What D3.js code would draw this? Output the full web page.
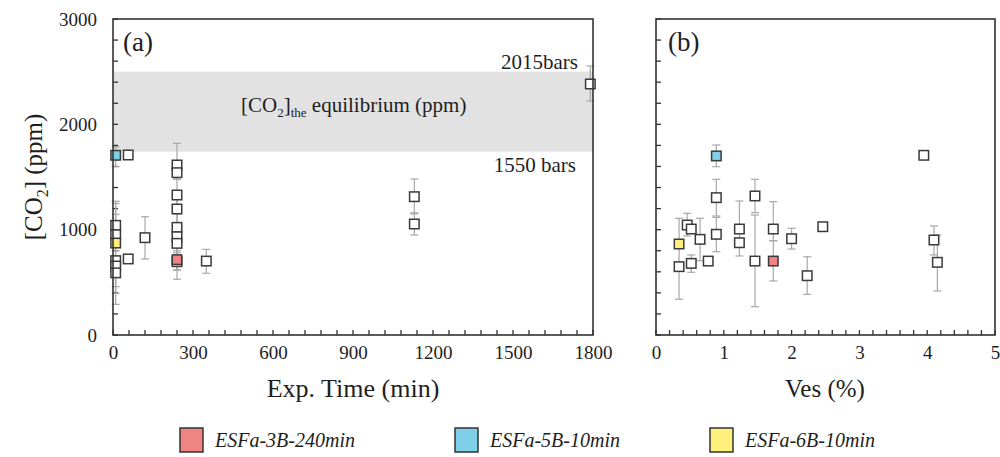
<!DOCTYPE html>
<html><head><meta charset="utf-8">
<script src="https://cdn.jsdelivr.net/npm/d3@7"></script>
</head><body style="margin:0;background:#fff"><svg id="c" width="1000" height="457" font-family="Liberation Serif"></svg>
<script>
// ---- Data ----
// Panel (a): experiment time (min) vs [CO2] (ppm)
const timeA = [10,57,10,10,10,10,10,120,57,240,240,240,240,240,240,240,240,350,1130,1130,1790,240,10,10];
const co2A  = [1041,1709,952,706,655,590,924,924,722,1614,1541,1329,1196,1022,933,870,696,702,1313,1054,2383,715,1706,873];
const loA   = [860,null,800,459,396,291,null,722,null,1478,null,1200,1050,880,780,617,617,586,1149,949,2222,529,1598,null];
const hiA   = [1270,null,1250,1146,null,null,null,1123,null,1820,null,1478,1300,1150,1020,1000,800,813,1481,1161,2554,895,1788,null];
const catA  = ["w","w","w","w","w","w","none","w","w","w","w","w","w","w","w","w","w","w","w","w","w","r","b","y"];
// Panel (b): vesicularity (%) vs [CO2] (ppm)
const vesB = [0.34,0.46,0.52,0.52,0.65,0.77,0.89,0.89,1.23,1.23,1.46,1.46,1.73,2.0,2.23,2.46,3.95,4.10,4.15,1.73,0.89,0.34];
const co2B = [649,1044,1006,680,908,702,1304,956,1006,876,1320,702,1006,914,563,1028,1706,902,690,702,1700,864];
const loB  = [339,940,null,595,705,null,1130,791,750,null,1161,269,895,816,386,null,null,760,418,513,1598,null];
const hiB  = [1108,1155,null,760,1108,null,1478,1117,1272,null,1478,1139,1266,1013,743,null,null,1035,949,895,1804,null];
const catB = ["w","w","w","w","w","w","w","w","w","w","w","w","w","w","w","w","w","w","w","r","b","y"];
// Axis ticks / labels
const yTicks = [0,1000,2000,3000];
const xTicksA = [0,300,600,900,1200,1500,1800];
const xTicksB = [0,1,2,3,4,5];
const band = [1740,2500];
const legendNames = ["ESFa-3B-240min","ESFa-5B-10min","ESFa-6B-10min"];
const legendCats = ["r","b","y"];
const colors = {w:"#ffffff", r:"#f08484", b:"#7ecfe7", y:"#fdf07c"};

const FONT = "Liberation Serif";
const TXT = "#1e1e1e";
const svg = d3.select("#c");
const yTop = 19, yBot = 335;
const y = d3.scaleLinear().domain([0,3000]).range([yBot, yTop]);
const xA = d3.scaleLinear().domain([0,1800]).range([113, 593]);
const xB = d3.scaleLinear().domain([0,5]).range([656, 995]);

function panel(x, xt, minorStep, showY) {
  const g = svg.append("g");
  const [x0,x1] = x.range();
  d3.range(0, 3001, 200).forEach(v => {
    g.append("line").attr("x1", x0).attr("x2", x0+5).attr("y1", y(v)).attr("y2", y(v)).attr("stroke","#333").attr("stroke-width",1.3);
  });
  const xd = x.domain();
  d3.range(xd[0], xd[1]+minorStep/2, minorStep).forEach(v => {
    g.append("line").attr("x1", x(v)).attr("x2", x(v)).attr("y1", yBot).attr("y2", yBot-5).attr("stroke","#333").attr("stroke-width",1.3);
  });
  const ax = d3.axisBottom(x).tickValues(xt).tickFormat(d3.format("d")).tickSize(0).tickPadding(11);
  const ag = g.append("g").attr("transform",`translate(0,${yBot})`).call(ax)
    .attr("font-family",FONT).attr("font-size",19);
  ag.select(".domain").remove();
  ag.selectAll("text").attr("fill",TXT);
  if (showY) {
    const ay = d3.axisLeft(y).tickValues(yTicks).tickFormat(d3.format("d")).tickSize(0).tickPadding(16);
    const yg = g.append("g").attr("transform",`translate(${x0},0)`).call(ay)
      .attr("font-family",FONT).attr("font-size",19);
    yg.select(".domain").remove();
    yg.selectAll("text").attr("fill",TXT);
  }
  return g;
}

svg.append("rect").attr("x", xA(0)).attr("width", xA(1800)-xA(0))
  .attr("y", y(band[1])).attr("height", y(band[0])-y(band[1])).attr("fill","#e2e2e2");

panel(xA, xTicksA, 60, true);
panel(xB, xTicksB, 0.2, false);

function points(x, xs, vs, lo, hi, cat) {
  const g = svg.append("g");
  const idx = d3.range(xs.length);
  idx.forEach(i => {
    if (lo[i]==null && hi[i]==null) return;
    const a = lo[i]!=null ? lo[i] : vs[i], b = hi[i]!=null ? hi[i] : vs[i];
    const cx = x(xs[i]);
    g.append("line").attr("x1",cx).attr("x2",cx).attr("y1",y(a)).attr("y2",y(b)).attr("stroke","#a8a8a8").attr("stroke-width",1.2);
    [lo[i],hi[i]].forEach(v => { if (v!=null) g.append("line").attr("x1",cx-4).attr("x2",cx+4).attr("y1",y(v)).attr("y2",y(v)).attr("stroke","#a8a8a8").attr("stroke-width",1.2); });
  });
  idx.forEach(i => {
    if (cat[i]==="none") return;
    const s = 9.5;
    g.append("rect").attr("x", x(xs[i])-s/2).attr("y", y(vs[i])-s/2).attr("width",s).attr("height",s)
      .attr("fill", colors[cat[i]]).attr("stroke","#3a3a3a").attr("stroke-width",1.5);
  });
}
points(xA, timeA, co2A, loA, hiA, catA);
points(xB, vesB, co2B, loB, hiB, catB);

[xA, xB].forEach(x => {
  const [x0,x1] = x.range();
  svg.append("rect").attr("x",x0).attr("y",yTop).attr("width",x1-x0).attr("height",yBot-yTop)
    .attr("fill","none").attr("stroke","#333").attr("stroke-width",1.6);
});

function txt(x, yy, size, s) {
  return svg.append("text").attr("x",x).attr("y",yy).attr("font-size",size).attr("font-family",FONT).attr("fill",TXT).text(s);
}
txt(123, 51, 27, "(a)");
txt(668, 51, 27, "(b)");
txt(578, 69, 21, "2015bars").attr("text-anchor","end");
txt(576, 172, 21, "1550 bars").attr("text-anchor","end");
const eq = svg.append("text").attr("x",241).attr("y",112).attr("font-size",21).attr("font-family",FONT).attr("fill",TXT);
eq.append("tspan").text("[CO");
eq.append("tspan").attr("font-size",13).attr("dy",5).text("2");
eq.append("tspan").attr("dy",-5).text("]");
eq.append("tspan").attr("font-size",13).attr("dy",5).text("the");
eq.append("tspan").attr("dy",-5).text(" equilibrium  (ppm)");

txt(353, 397, 26, "Exp. Time (min)").attr("text-anchor","middle");
txt(825, 397, 25, "Ves (%)").attr("text-anchor","middle");
const yt = svg.append("text").attr("transform","translate(42,177) rotate(-90)").attr("text-anchor","middle")
  .attr("font-size",25).attr("font-family",FONT).attr("fill",TXT);
yt.append("tspan").text("[CO");
yt.append("tspan").attr("font-size",16).attr("dy",6).text("2");
yt.append("tspan").attr("dy",-6).text("] (ppm)");

const lx = [180, 455, 710];
legendNames.forEach((n,i) => {
  svg.append("rect").attr("x",lx[i]).attr("y",428).attr("width",23).attr("height",24)
    .attr("fill",colors[legendCats[i]]).attr("stroke","#333").attr("stroke-width",1.5);
  txt(lx[i]+35, 447, 20, n).attr("font-style","italic");
});
</script></body></html>
